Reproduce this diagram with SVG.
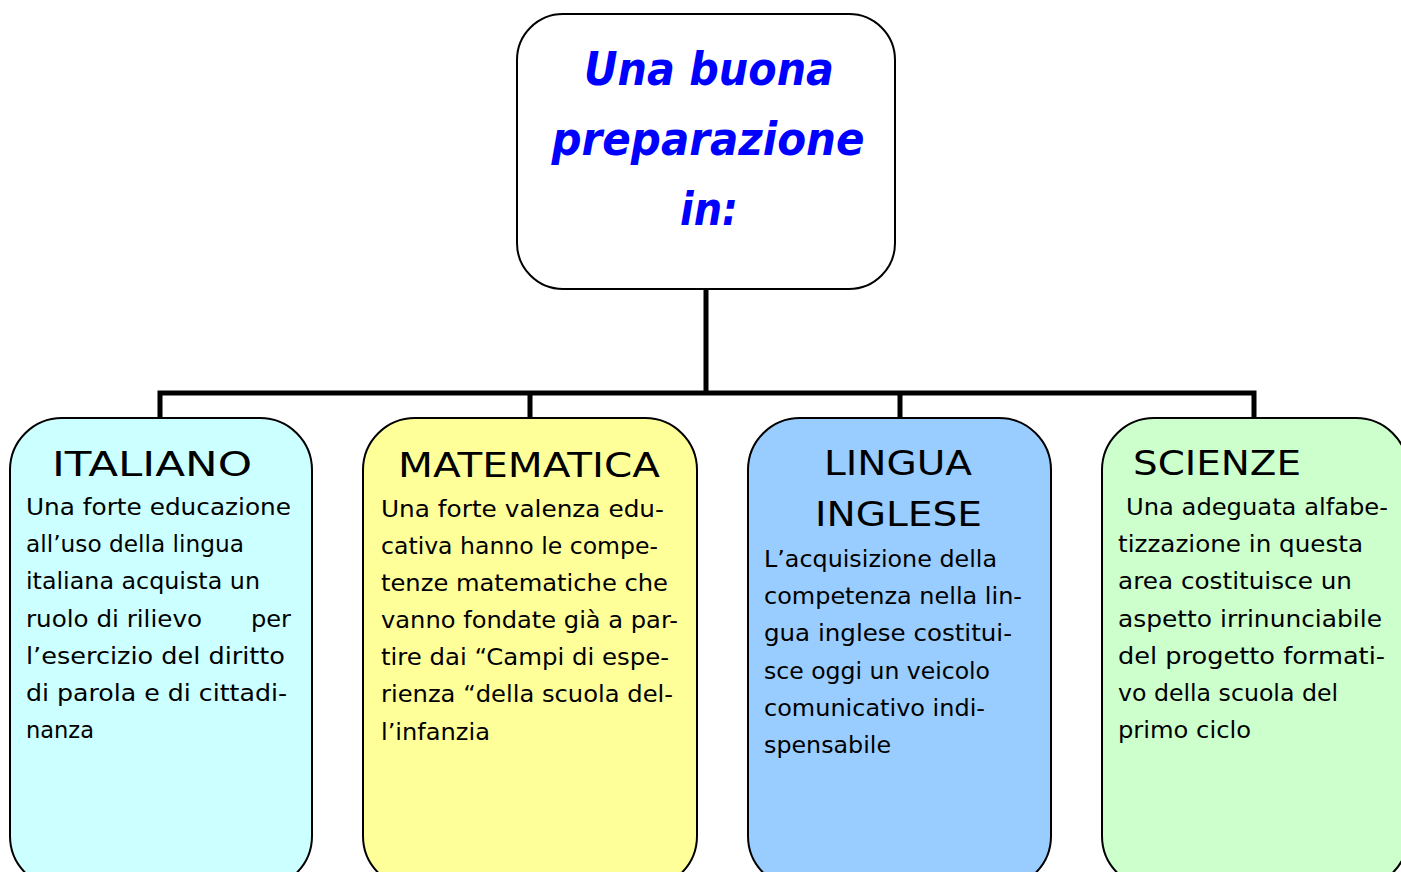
<svg xmlns="http://www.w3.org/2000/svg" width="1401" height="872" viewBox="0 0 1401 872">
<style>
.box{stroke:#000;stroke-width:2}
.conn{stroke:#000;stroke-width:5;fill:none;stroke-linecap:square}
.title{font-family:"DejaVu Sans",sans-serif;font-weight:bold;font-style:italic;font-size:46px;fill:#0000FF;text-anchor:middle}
.head{font-family:"DejaVu Sans",sans-serif;font-size:34px;fill:#000}
.body{font-family:"DejaVu Sans",sans-serif;font-size:23px;fill:#000}
</style>
<rect width="1401" height="872" fill="#fff"/>
<g id="connectors">
<path class="conn" d="M706 290V393M160 393H1254M160 393V418M530 393V418M900 393V418M1254 393V418"/>
</g>
<g id="top">
<rect class="box" x="517" y="14" width="378" height="275" rx="46" fill="#fff"/>
<text class="title" x="709" y="85" textLength="250" lengthAdjust="spacingAndGlyphs">Una buona</text>
<text class="title" x="708" y="155" textLength="313" lengthAdjust="spacingAndGlyphs">preparazione</text>
<text class="title" x="709" y="225" textLength="58" lengthAdjust="spacingAndGlyphs">in:</text>
</g>
<g id="italiano">
<rect class="box" x="10" y="418" width="302" height="470" rx="52" fill="#CCFFFF"/>
<text class="head" x="52" y="476" textLength="200" lengthAdjust="spacingAndGlyphs">ITALIANO</text>
<text class="body" x="26" y="515" textLength="265" lengthAdjust="spacingAndGlyphs">Una forte educazione</text>
<text class="body" x="26" y="552" textLength="218" lengthAdjust="spacingAndGlyphs">all’uso della lingua</text>
<text class="body" x="26" y="589" textLength="234" lengthAdjust="spacingAndGlyphs">italiana acquista un</text>
<text class="body" x="26" y="627" textLength="176" lengthAdjust="spacingAndGlyphs">ruolo di rilievo</text>
<text class="body" x="251" y="627" textLength="40" lengthAdjust="spacingAndGlyphs">per</text>
<text class="body" x="26" y="664" textLength="259" lengthAdjust="spacingAndGlyphs">l’esercizio del diritto</text>
<text class="body" x="26" y="701" textLength="261" lengthAdjust="spacingAndGlyphs">di parola e di cittadi-</text>
<text class="body" x="26" y="738" textLength="68" lengthAdjust="spacingAndGlyphs">nanza</text>
</g>
<g id="matematica">
<rect class="box" x="363" y="418" width="334" height="470" rx="52" fill="#FFFF99"/>
<text class="head" x="398" y="477" textLength="262" lengthAdjust="spacingAndGlyphs">MATEMATICA</text>
<text class="body" x="381" y="517" textLength="283" lengthAdjust="spacingAndGlyphs">Una forte valenza edu-</text>
<text class="body" x="381" y="554" textLength="277" lengthAdjust="spacingAndGlyphs">cativa hanno le compe-</text>
<text class="body" x="381" y="591" textLength="287" lengthAdjust="spacingAndGlyphs">tenze matematiche che</text>
<text class="body" x="381" y="628" textLength="297" lengthAdjust="spacingAndGlyphs">vanno fondate già a par-</text>
<text class="body" x="381" y="665" textLength="288" lengthAdjust="spacingAndGlyphs">tire dai “Campi di espe-</text>
<text class="body" x="381" y="702" textLength="292" lengthAdjust="spacingAndGlyphs">rienza “della scuola del-</text>
<text class="body" x="381" y="740" textLength="109" lengthAdjust="spacingAndGlyphs">l’infanzia</text>
</g>
<g id="lingua">
<rect class="box" x="748" y="418" width="303" height="470" rx="52" fill="#99CCFF"/>
<text class="head" x="824" y="475" textLength="148" lengthAdjust="spacingAndGlyphs">LINGUA</text>
<text class="head" x="815" y="526" textLength="167" lengthAdjust="spacingAndGlyphs">INGLESE</text>
<text class="body" x="764" y="567" textLength="233" lengthAdjust="spacingAndGlyphs">L’acquisizione della</text>
<text class="body" x="764" y="604" textLength="258" lengthAdjust="spacingAndGlyphs">competenza nella lin-</text>
<text class="body" x="764" y="641" textLength="248" lengthAdjust="spacingAndGlyphs">gua inglese costitui-</text>
<text class="body" x="764" y="679" textLength="226" lengthAdjust="spacingAndGlyphs">sce oggi un veicolo</text>
<text class="body" x="764" y="716" textLength="221" lengthAdjust="spacingAndGlyphs">comunicativo indi-</text>
<text class="body" x="764" y="753" textLength="127" lengthAdjust="spacingAndGlyphs">spensabile</text>
</g>
<g id="scienze">
<rect class="box" x="1102" y="418" width="306" height="470" rx="52" fill="#CCFFCC"/>
<text class="head" x="1133" y="475" textLength="168" lengthAdjust="spacingAndGlyphs">SCIENZE</text>
<text class="body" x="1126" y="515" textLength="262" lengthAdjust="spacingAndGlyphs">Una adeguata alfabe-</text>
<text class="body" x="1118" y="552" textLength="245" lengthAdjust="spacingAndGlyphs">tizzazione in questa</text>
<text class="body" x="1118" y="589" textLength="234" lengthAdjust="spacingAndGlyphs">area costituisce un</text>
<text class="body" x="1118" y="627" textLength="264" lengthAdjust="spacingAndGlyphs">aspetto irrinunciabile</text>
<text class="body" x="1118" y="664" textLength="267" lengthAdjust="spacingAndGlyphs">del progetto formati-</text>
<text class="body" x="1118" y="701" textLength="220" lengthAdjust="spacingAndGlyphs">vo della scuola del</text>
<text class="body" x="1118" y="738" textLength="133" lengthAdjust="spacingAndGlyphs">primo ciclo</text>
</g>
</svg>
